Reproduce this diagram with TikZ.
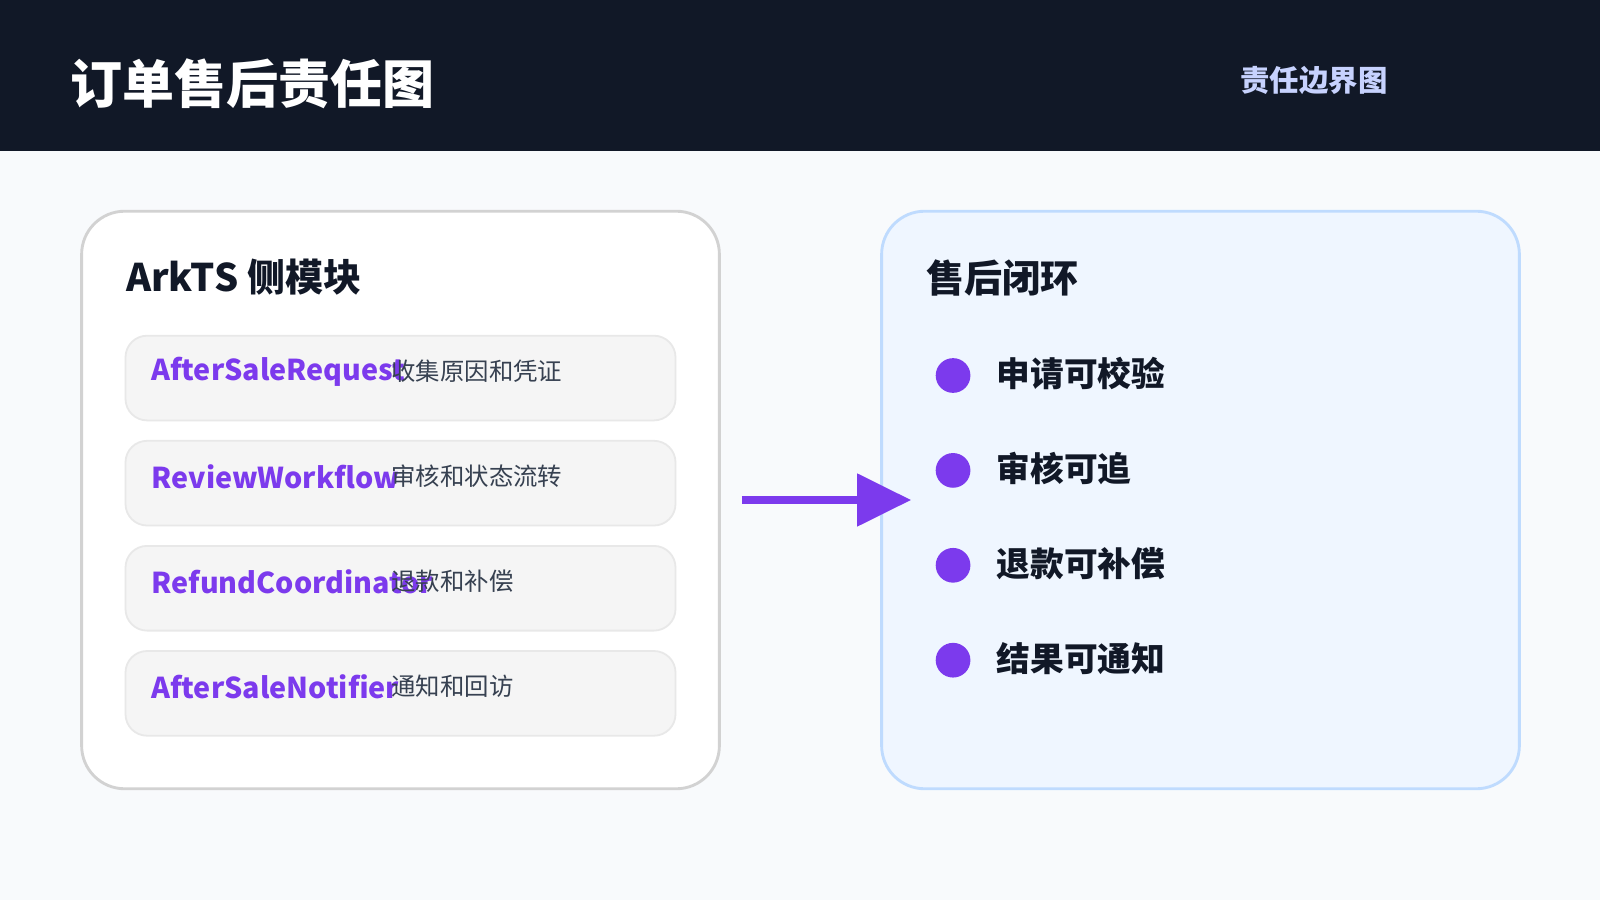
\documentclass[tikz,border=0pt]{standalone}
\usepackage{fontspec}
\setmainfont{Noto Sans CJK SC}
\usetikzlibrary{arrows.meta,positioning}
\definecolor{headbg}{HTML}{111827}
\definecolor{pagebg}{HTML}{F8FAFC}
\definecolor{purp}{HTML}{7C3AED}
\definecolor{txtgray}{HTML}{374151}
\definecolor{lavender}{HTML}{C7D2FE}
\definecolor{goalbg}{HTML}{EFF6FF}
\definecolor{goalline}{HTML}{BFDBFE}
\tikzset{
  card/.style={rounded corners=12pt,line width=0.8pt},
  cardtitle/.style={anchor=west,inner sep=0pt,text=headbg,font=\fontsize{10.6pt}{12pt}\selectfont\bfseries},
  item/.style={rounded corners=6pt,fill=gray!8,draw=gray!18,line width=0.5pt},
  itemname/.style={anchor=west,inner sep=0pt,text=purp,font=\fontsize{8pt}{10pt}\selectfont\bfseries},
  itemdesc/.style={anchor=west,inner sep=0pt,text=txtgray,font=\fontsize{6.8pt}{8pt}\selectfont},
  dot/.style={circle,fill=purp,minimum size=0.34cm,inner sep=0pt},
  goal/.style={anchor=west,inner sep=0pt,text=headbg,font=\fontsize{9.4pt}{11pt}\selectfont\bfseries},
}
\begin{document}
\begin{tikzpicture}[x=0.01cm,y=-0.01cm]
% Page and header
  \fill[pagebg] (0,0) rectangle (1568,882);
  \fill[headbg] (0,0) rectangle (1568,148);
  \useasboundingbox (0,0) rectangle (1568,882);
  \node[anchor=west,inner sep=0pt,text=white,font=\fontsize{14.5pt}{16pt}\selectfont\bfseries] (title) at (68,82) {订单售后责任图};
  \node[anchor=west,inner sep=0pt,text=lavender,font=\fontsize{8.2pt}{10pt}\selectfont\bfseries] (tag) at (1215,79) {责任边界图};
% Left card
  \draw[card,fill=white,draw=gray!35] (80,207) rectangle (705,773);
  \node[cardtitle] (lefttitle) at (123,272) {ArkTS 侧模块};
% Module rows
  \foreach \y/\name/\desc in {370/AfterSaleRequest/收集原因和凭证,
                              473/ReviewWorkflow/审核和状态流转,
                              576/RefundCoordinator/退款和补偿,
                              679/AfterSaleNotifier/通知和回访}{
    \draw[item] (123,\y-41) rectangle (662,\y+42);
    \node[itemname] at (148,\y-6) {\name};
    \node[itemdesc] at (383,\y-6) {\desc};
  }
% Right card
  \draw[card,fill=goalbg,draw=goalline] (864,207) rectangle (1489,773);
  \node[cardtitle] (righttitle) at (907,272) {售后闭环};
% Goals
  \foreach \y/\goaltext [count=\i] in {368/申请可校验,461/审核可追,554/退款可补偿,647/结果可通知}{
    \node[dot] (dot\i) at (934,\y) {};
    \node[goal] (goal\i) at (976,\y-2) {\goaltext};
  }
% Arrow between cards
  \coordinate (arrowstart) at (727,490);
  \coordinate (arrowend) at (893,490);
  \draw[purp,line width=2.3pt,-{Triangle[length=0.53cm,width=0.5cm]}] (arrowstart) -- (arrowend);
\end{tikzpicture}
\end{document}
